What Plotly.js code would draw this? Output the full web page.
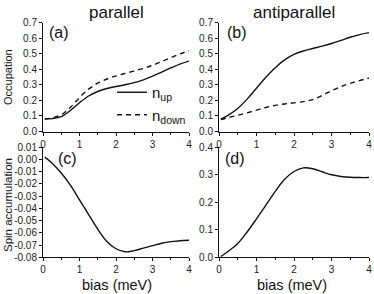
<!DOCTYPE html>
<html>
<head>
<meta charset="utf-8">
<script src="https://cdn.plot.ly/plotly-3.0.1.min.js"></script>
<style>html,body{margin:0;padding:0;background:#fff}#chart{width:374px;height:294px}</style>
</head>
<body>
<div id="chart"></div>
<script>
// bias (meV)
const bias = [0.05,0.25,0.5,0.75,1.0,1.25,1.5,1.75,2.0,2.25,2.5,2.75,3.0,3.25,3.5,3.75,4.0];
// (a) parallel occupation
const parUp   = [0.080,0.083,0.096,0.135,0.185,0.228,0.257,0.276,0.289,0.300,0.314,0.332,0.355,0.382,0.408,0.433,0.452];
const parDown = [0.080,0.087,0.108,0.155,0.218,0.272,0.310,0.337,0.357,0.373,0.389,0.405,0.425,0.449,0.474,0.498,0.518];
// (b) antiparallel occupation
const apUp    = [0.080,0.105,0.148,0.208,0.278,0.348,0.410,0.460,0.495,0.517,0.533,0.548,0.565,0.585,0.605,0.622,0.635];
const apDown  = [0.076,0.090,0.104,0.120,0.137,0.154,0.168,0.177,0.184,0.192,0.205,0.232,0.262,0.288,0.309,0.327,0.343];
// (c) spin accumulation, parallel
const spinPar = [0.002,-0.003,-0.011,-0.021,-0.033,-0.045,-0.057,-0.067,-0.073,-0.0755,-0.0745,-0.0725,-0.0705,-0.0685,-0.0672,-0.0665,-0.066];
// (d) spin accumulation, antiparallel
const spinAP  = [0.003,0.022,0.050,0.092,0.140,0.190,0.240,0.284,0.312,0.325,0.322,0.311,0.300,0.294,0.291,0.290,0.290];

const xTicks = [0,1,2,3,4];
const occTicks = [0,0.1,0.2,0.3,0.4,0.5,0.6,0.7];
const occText = ["0.0","0.1","0.2","0.3","0.4","0.5","0.6","0.7"];
const spinParTicks = [0.01,0,-0.01,-0.02,-0.03,-0.04,-0.05,-0.06,-0.07,-0.08];
const spinParText = ["0.01","0.00","-0.01","-0.02","-0.03","-0.04","-0.05","-0.06","-0.07","-0.08"];
const spinAPTicks = [0,0.1,0.2,0.3,0.4];
const spinAPText = ["0.0","0.1","0.2","0.3","0.4"];
const legendNames = ["n<sub>up</sub>","n<sub>down</sub>"];

const FONT = "Liberation Sans, Arial, sans-serif";
const W = 374, H = 294;
const LINE = {color:'#111', width:1.4, shape:'spline', smoothing:1};
const DASH = Object.assign({}, LINE, {dash:'5px,4px'});

const traces = [
  {x:bias, y:parUp, xaxis:'x', yaxis:'y', mode:'lines', line:LINE, name:legendNames[0], showlegend:true},
  {x:bias, y:parDown, xaxis:'x', yaxis:'y', mode:'lines', line:DASH, name:legendNames[1], showlegend:true},
  {x:bias, y:apUp, xaxis:'x2', yaxis:'y2', mode:'lines', line:LINE, showlegend:false},
  {x:bias, y:apDown, xaxis:'x2', yaxis:'y2', mode:'lines', line:DASH, showlegend:false},
  {x:bias, y:spinPar, xaxis:'x3', yaxis:'y3', mode:'lines', line:LINE, showlegend:false},
  {x:bias, y:spinAP, xaxis:'x4', yaxis:'y4', mode:'lines', line:LINE, showlegend:false}
];

const xl = [43/W, 189/W], xr = [219/W, 369/W];
const yt = [1-131.5/H, 1-22.5/H], yb = [1-257.3/H, 1-147.3/H];
const tickFont = {family:FONT, size:10, color:'#222'};

function xax(dom, anchor){
  return {domain:dom, anchor:anchor, range:[0,4], tickvals:xTicks, ticktext:xTicks.map(String),
    showline:true, linecolor:'#111', linewidth:1, ticks:'outside', ticklen:3, tickcolor:'#111',
    showgrid:false, zeroline:false, tickfont:tickFont, ticklabelstandoff:0,
    minor:{dtick:0.5, tick0:0, ticks:'outside', ticklen:2, tickcolor:'#111', showgrid:false}};
}
function yax(dom, anchor, range, tv, tt){
  return {domain:dom, anchor:anchor, range:range, tickvals:tv, ticktext:tt,
    showline:true, linecolor:'#111', linewidth:1, ticks:'outside', ticklen:3, tickcolor:'#111',
    showgrid:false, zeroline:false, tickfont:tickFont};
}

const ann = (text, x, y, size, extra) => Object.assign({text:text, x:x/W, y:1-y/H, xref:'paper', yref:'paper',
  showarrow:false, xanchor:'center', yanchor:'middle', font:{family:FONT, size:size, color:'#111'}}, extra||{});

const layout = {
  width:W, height:H, margin:{l:0,r:0,t:0,b:0}, paper_bgcolor:'#fff', plot_bgcolor:'#fff',
  font:{family:FONT, color:'#111'},
  xaxis: xax(xl,'y'), yaxis: yax(yt,'x',[0,0.7],occTicks,occText),
  xaxis2: xax(xr,'y2'), yaxis2: yax(yt,'x2',[0,0.7],occTicks,occText),
  xaxis3: xax(xl,'y3'), yaxis3: yax(yb,'x3',[-0.08,0.01],spinParTicks,spinParText),
  xaxis4: xax(xr,'y4'), yaxis4: yax(yb,'x4',[0,0.4],spinAPTicks,spinAPText),
  showlegend:true,
  legend:{x:112/W, y:1-76/H, xanchor:'left', yanchor:'top', bgcolor:'rgba(0,0,0,0)',
    font:{family:FONT, size:15, color:'#111'}, tracegroupgap:0, itemwidth:30},
  annotations:[
    ann('parallel', 116, 12, 17),
    ann('antiparallel', 294, 12, 17),
    ann('(a)', 59, 32, 16),
    ann('(b)', 237, 32, 16),
    ann('(c)', 67, 158, 16),
    ann('(d)', 235, 158, 16),
    ann('Occupation', 8, 77, 11, {textangle:-90}),
    ann('Spin accumulation', 8, 205, 11.5, {textangle:-90}),
    ann('bias (meV)', 117, 285, 14.5),
    ann('bias (meV)', 292, 285, 14.5)
  ]
};

Plotly.newPlot('chart', traces, layout, {staticPlot:true, displayModeBar:false});
</script>
</body>
</html>
